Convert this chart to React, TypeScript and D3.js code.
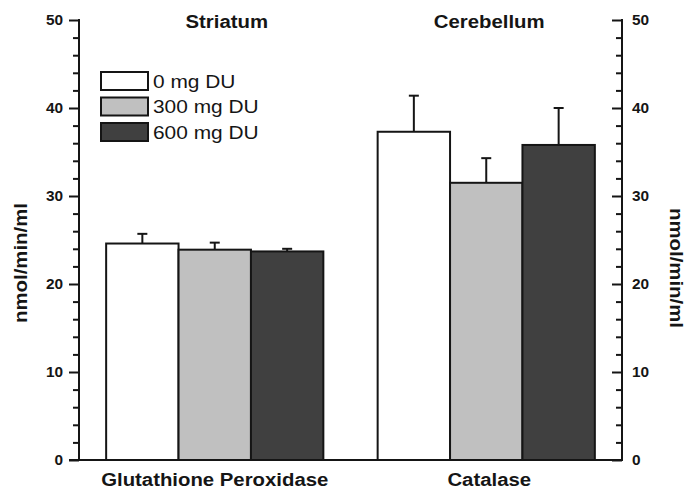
import React, { useEffect, useRef } from "react";
import * as d3 from "d3";

const categories = ["Glutathione Peroxidase", "Catalase"];
const regions = ["Striatum", "Cerebellum"];
const seriesNames = ["0 mg DU", "300 mg DU", "600 mg DU"];
const mean0 = [24.6, 37.3];
const mean300 = [23.9, 31.5];
const mean600 = [23.7, 35.8];
const err0 = [1.1, 4.1];
const err300 = [0.8, 2.8];
const err600 = [0.3, 4.2];
const majorTicks = [0, 10, 20, 30, 40, 50];
const minorTicks = [2, 4, 6, 8, 12, 14, 16, 18, 22, 24, 26, 28, 32, 34, 36, 38, 42, 44, 46, 48];
const yTitle = "nmol/min/ml";

const fills = ["#ffffff", "#c0c0c0", "#404040"];
const INK = "#151515";
const FONT = "'Liberation Sans', Arial, Helvetica, sans-serif";
const SX = 1.1;

const W = 687;
const H = 490;
const left = 79;
const right = 622;
const top = 20;
const bottom = 460;

function T(props: {
  x: number;
  y: number;
  rot?: number;
  size: number;
  bold?: boolean;
  anchor?: string;
  dy?: string;
  children: string;
}) {
  const { x, y, rot = 0, size, bold, anchor = "start", dy, children } = props;
  return (
    <text
      transform={`translate(${x},${y}) rotate(${rot}) scale(${SX},1)`}
      textAnchor={anchor}
      dy={dy}
      fontSize={size}
      fontWeight={bold ? "bold" : "normal"}
      fill={INK}
    >
      {children}
    </text>
  );
}

export default function App() {
  const leftRef = useRef<SVGGElement>(null);
  const rightRef = useRef<SVGGElement>(null);

  const x0 = d3.scaleBand<string>().domain(categories).range([left, right]).paddingInner(0.2).paddingOuter(0.1);
  const x1 = d3.scaleBand<string>().domain(seriesNames).range([0, x0.bandwidth()]).padding(0);
  const y = d3.scaleLinear().domain([0, 50]).range([bottom, top]);

  const means = [mean0, mean300, mean600];
  const errs = [err0, err300, err600];

  useEffect(() => {
    const style = (g: d3.Selection<SVGGElement, unknown, null, undefined>, side: number) => {
      g.select(".domain").remove();
      g.selectAll("line").attr("stroke", INK).attr("stroke-width", 2);
      g.selectAll<SVGTextElement, number>("text").each(function () {
        const t = d3.select(this);
        const tx = +t.attr("x");
        t.attr("x", null)
          .attr("transform", `translate(${tx},0) scale(${SX},1)`)
          .attr("fill", INK)
          .style("font-family", FONT)
          .style("font-size", "14px")
          .style("font-weight", "bold");
      });
    };
    const gl = d3.select(leftRef.current!);
    gl.selectAll("*").remove();
    const glMaj = gl.append("g");
    glMaj.call(d3.axisLeft(y).tickValues(majorTicks).tickSize(10).tickPadding(6).tickFormat(d3.format("d")) as any);
    style(glMaj, -1);
    const glMin = gl.append("g");
    glMin.call(d3.axisLeft(y).tickValues(minorTicks).tickSize(6).tickFormat(() => "") as any);
    style(glMin, -1);

    const gr = d3.select(rightRef.current!);
    gr.selectAll("*").remove();
    const grMaj = gr.append("g");
    grMaj.call(d3.axisRight(y).tickValues(majorTicks).tickSize(-10).tickPadding(10).tickFormat(d3.format("d")) as any);
    style(grMaj, 1);
    const grMin = gr.append("g");
    grMin.call(d3.axisRight(y).tickValues(minorTicks).tickSize(-6).tickFormat(() => "") as any);
    style(grMin, 1);
  }, []);

  const legendY = [72, 97.5, 123];

  return (
    <svg
      width={W}
      height={H}
      style={{ position: "absolute", left: 0, top: 0, background: "#fff" }}
      fontFamily={FONT}
    >
      <rect x={0} y={0} width={W} height={H} fill="#fff" />
      {/* bars */}
      {categories.map((c, ci) => (
        <g key={c} transform={`translate(${x0(c)},0)`}>
          {seriesNames.map((s, si) => {
            const v = means[si][ci];
            const e = errs[si][ci];
            const bx = x1(s)!;
            const bw = x1.bandwidth();
            const cx = bx + bw / 2;
            return (
              <g key={s}>
                <line x1={cx} x2={cx} y1={y(v)} y2={y(v + e)} stroke={INK} strokeWidth={2} />
                <line x1={cx - 5} x2={cx + 5} y1={y(v + e)} y2={y(v + e)} stroke={INK} strokeWidth={2} />
                <rect x={bx} y={y(v)} width={bw} height={y(0) - y(v)} fill={fills[si]} stroke={INK} strokeWidth={2} />
              </g>
            );
          })}
        </g>
      ))}
      {/* axes */}
      <g ref={leftRef} transform={`translate(${left},0)`} />
      <g ref={rightRef} transform={`translate(${right},0)`} />
      <line x1={left} x2={left} y1={top - 1} y2={bottom + 1} stroke={INK} strokeWidth={2} />
      <line x1={right} x2={right} y1={top - 1} y2={bottom + 1} stroke={INK} strokeWidth={2} />
      <line x1={left - 10} x2={right + 1} y1={bottom} y2={bottom} stroke={INK} strokeWidth={2} />

      {/* region titles */}
      {regions.map((r, i) => (
        <T
          key={r}
          x={x0(categories[i])! + x0.bandwidth() / 2 + (i === 0 ? 12 : 3)}
          y={28}
          anchor="middle"
          size={18.5}
          bold
        >
          {r}
        </T>
      ))}
      {/* category labels */}
      {categories.map((c, i) => (
        <T
          key={c}
          x={x0(c)! + x0.bandwidth() / 2 + (i === 0 ? 0 : 3)}
          y={486}
          anchor="middle"
          size={18.5}
          bold
        >
          {c}
        </T>
      ))}
      {/* y titles */}
      <T x={27} y={263} rot={-90} anchor="middle" size={18.5} bold>
        {yTitle}
      </T>
      <T x={670} y={268} rot={90} anchor="middle" size={18.5} bold>
        {yTitle}
      </T>
      {/* legend */}
      {seriesNames.map((s, i) => (
        <g key={s}>
          <rect x={101} y={legendY[i]} width={47} height={18} fill={fills[i]} stroke={INK} strokeWidth={2} />
          <T x={153} y={legendY[i] + 9} dy="0.36em" size={19}>
            {s}
          </T>
        </g>
      ))}
    </svg>
  );
}
